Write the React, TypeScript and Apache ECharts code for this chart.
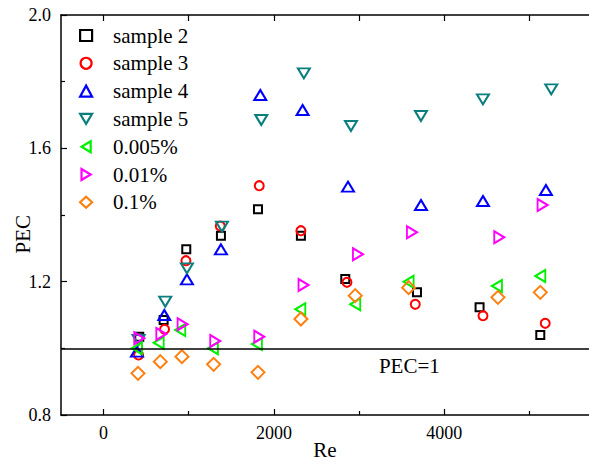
import React, { useEffect, useRef } from "react";
import * as echarts from "echarts";

const seriesNames = ["sample 2", "sample 3", "sample 4", "sample 5", "0.005%", "0.01%", "0.1%"];
const seriesColors = ["#000000", "#ff0000", "#0000ff", "#0b7f7f", "#00f000", "#ff00ff", "#ff7f0e"];

const reSample2 = [419, 705, 971, 1378, 1813, 2317, 2838, 3680, 4415, 5128];
const pecSample2 = [1.035, 1.085, 1.297, 1.338, 1.417, 1.338, 1.208, 1.168, 1.123, 1.04];
const reSample3 = [411, 716, 967, 1370, 1828, 2317, 2858, 3660, 4455, 5186];
const pecSample3 = [0.98, 1.057, 1.263, 1.367, 1.488, 1.353, 1.198, 1.132, 1.098, 1.075];
const reSample4 = [392, 713, 979, 1378, 1840, 2337, 2870, 3727, 4455, 5194];
const pecSample4 = [0.99, 1.1, 1.207, 1.297, 1.76, 1.715, 1.485, 1.43, 1.442, 1.475];
const reSample5 = [411, 724, 979, 1390, 1852, 2352, 2905, 3727, 4455, 5257];
const pecSample5 = [1.025, 1.14, 1.24, 1.365, 1.685, 1.825, 1.667, 1.697, 1.747, 1.777];
const reC0005 = [392, 647, 900, 1284, 1801, 2310, 2955, 3582, 4619, 5128];
const pecC0005 = [1.0, 1.017, 1.055, 1.0, 1.013, 1.117, 1.132, 1.2, 1.187, 1.217];
const reC001 = [419, 678, 928, 1311, 1828, 2348, 2987, 3621, 4646, 5155];
const pecC001 = [1.03, 1.043, 1.072, 1.022, 1.035, 1.19, 1.282, 1.348, 1.333, 1.43];
const reC01 = [404, 666, 920, 1292, 1813, 2317, 2955, 3582, 4631, 5128];
const pecC01 = [0.925, 0.96, 0.975, 0.952, 0.928, 1.088, 1.158, 1.182, 1.153, 1.168];

const xMajorTicks = [0, 2000, 4000];
const xMinorTicks = [1000, 3000, 5000];
const xTopTicks = [0, 1000, 2000, 3000, 4000, 5000];
const referencePEC = 1;
const referenceLabelRe = 3590;

const FONT = "Liberation Serif";

export default function App() {
  const ref = useRef<HTMLDivElement>(null);
  useEffect(() => {
    if (!ref.current) return;
    const chart = echarts.init(ref.current, undefined, { renderer: "svg" });
    const reArr = [reSample2, reSample3, reSample4, reSample5, reC0005, reC001, reC01];
    const pecArr = [pecSample2, pecSample3, pecSample4, pecSample5, pecC0005, pecC001, pecC01];
    const symbols = ["rect", "circle", "triangle", "triangle", "triangle", "triangle", "diamond"];
    const rotates = [0, 0, 0, 180, 90, -90, 0];
    const legendIcons = [
      "rect",
      "circle",
      "triangle",
      "path://M0,0L12,0L6,10Z",
      "path://M10,0L10,12L0,6Z",
      "path://M0,0L0,12L10,6Z",
      "diamond",
    ];
    const sizes: any[] = [8, 9, [12, 10], [12, 10], [12, 10], [12, 10], 13];
    const series: any[] = seriesNames.map((name, i) => ({
      name,
      type: "scatter",
      xAxisIndex: 0,
      yAxisIndex: 0,
      data: reArr[i].map((r, j) => [r, pecArr[i][j]]),
      symbol: symbols[i],
      symbolRotate: rotates[i],
      symbolSize: sizes[i],
      itemStyle: { color: "rgba(255,255,255,0)", borderColor: seriesColors[i], borderWidth: 2, opacity: 1 },
      z: 3,
    }));
    series.push({
      name: "ref",
      type: "line",
      data: [],
      xAxisIndex: 0,
      yAxisIndex: 0,
      markLine: {
        silent: true,
        symbol: ["none", "none"],
        lineStyle: { color: "#000", width: 1.5, type: "solid" },
        label: { show: false },
        data: [{ yAxis: referencePEC }],
      },
      markPoint: {
        symbol: "circle",
        symbolSize: 0,
        label: {
          show: true,
          formatter: "PEC=1",
          position: "inside",
          offset: [0, 18],
          color: "#000",
          fontFamily: FONT,
          fontSize: 21,
        },
        data: [{ coord: [referenceLabelRe, referencePEC] }],
      },
    });

    const axisLineStyle = { show: true, onZero: false, lineStyle: { color: "#000", width: 1.5 } };
    const tickStyle = { color: "#000", width: 1.2 };
    const option: any = {
      animation: false,
      backgroundColor: "#fff",
      grid: { left: 61, top: 15, right: 0, bottom: 50, containLabel: false, outerBoundsMode: "none" },
      legend: {
        data: seriesNames.map((name, i) => ({
          name,
          icon: legendIcons[i],
          itemStyle: { color: "rgba(255,255,255,0)", borderColor: seriesColors[i], borderWidth: 2.2 },
        })),
        orient: "vertical",
        left: 79,
        top: 25,
        padding: 0,
        itemWidth: 12,
        itemHeight: 11,
        itemGap: 6.8,
        symbolKeepAspect: true,
        textStyle: { fontFamily: FONT, fontSize: 21, color: "#000", padding: [0, 0, 0, 16] },
      },
      xAxis: [
        {
          type: "value",
          min: -500,
          max: 5700,
          position: "bottom",
          name: "Re",
          nameLocation: "middle",
          nameGap: 24,
          nameMoveOverlap: false,
          nameTextStyle: { fontFamily: FONT, fontSize: 21, color: "#000" },
          axisLine: axisLineStyle,
          axisTick: { show: true, inside: true, length: 6, customValues: xMajorTicks, lineStyle: tickStyle },
          axisLabel: {
            customValues: xMajorTicks,
            fontFamily: FONT,
            fontSize: 18,
            color: "#000",
            margin: 9,
            formatter: (v: number) => String(v),
          },
          splitLine: { show: false },
        },
        {
          type: "value",
          min: -500,
          max: 5700,
          position: "bottom",
          axisLine: { show: false, onZero: false },
          axisTick: { show: true, inside: true, length: 4, customValues: xMinorTicks, lineStyle: tickStyle },
          axisLabel: { show: false },
          splitLine: { show: false },
        },
        {
          type: "value",
          min: -500,
          max: 5700,
          position: "top",
          axisLine: axisLineStyle,
          axisTick: { show: true, inside: true, length: 6, customValues: xTopTicks, lineStyle: tickStyle },
          axisLabel: { show: false },
          splitLine: { show: false },
        },
      ],
      yAxis: [
        {
          type: "value",
          min: 0.8,
          max: 2.0,
          interval: 0.4,
          name: "PEC",
          nameLocation: "middle",
          nameGap: 28,
          nameMoveOverlap: false,
          nameTextStyle: { fontFamily: FONT, fontSize: 21, color: "#000", align: "right" },
          axisLine: axisLineStyle,
          axisTick: { show: true, inside: true, length: 6, lineStyle: tickStyle },
          minorTick: { show: true, splitNumber: 2, length: 4, lineStyle: tickStyle },
          axisLabel: {
            fontFamily: FONT,
            fontSize: 18,
            color: "#000",
            margin: 10,
            formatter: (v: number) => v.toFixed(1),
          },
          splitLine: { show: false },
        },
      ],
      series,
    };
    chart.setOption(option);
    return () => chart.dispose();
  }, []);
  return (
    <div
      ref={ref}
      style={{ position: "fixed", left: 0, top: 0, width: 589, height: 465, background: "#fff" }}
    />
  );
}
